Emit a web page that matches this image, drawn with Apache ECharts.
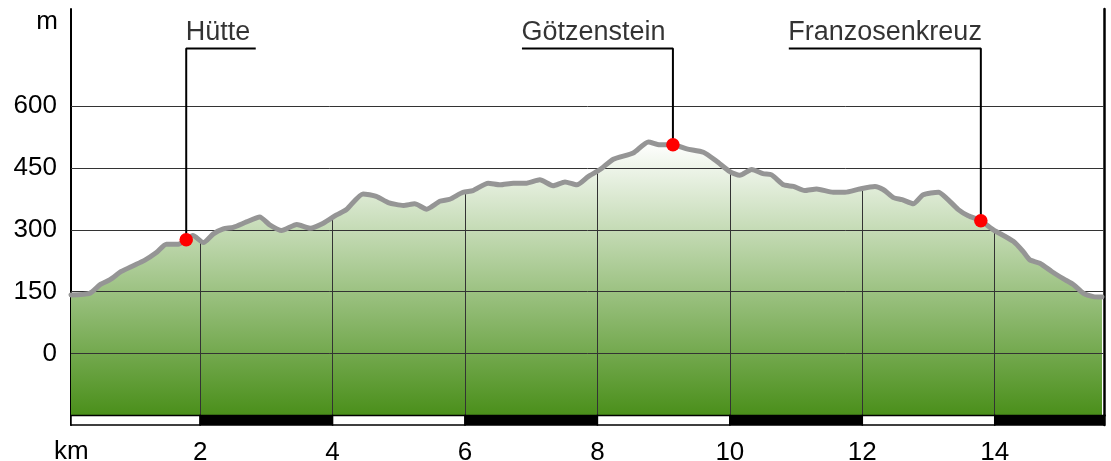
<!DOCTYPE html>
<html><head><meta charset="utf-8">
<script src="https://cdn.jsdelivr.net/npm/echarts@6/dist/echarts.min.js"></script>
<style>html,body{margin:0;padding:0;background:#fff}#c{width:1111px;height:461px}</style>
</head><body><div id="c"></div>
<script>
const distances = [0.05,0.33,0.49,0.64,0.81,0.99,1.16,1.34,1.49,1.67,
  1.79,1.89,2.05,2.20,2.35,2.50,2.70,2.90,3.05,3.23,
  3.46,3.66,3.86,4.06,4.21,4.46,4.66,4.84,5.07,5.24,
  5.42,5.62,5.77,5.97,6.12,6.35,6.53,6.73,6.93,7.13,
  7.33,7.51,7.69,7.86,8.04,8.24,8.54,8.77,8.94,9.14,
  9.35,9.60,9.80,10.0,10.15,10.33,10.50,10.63,10.81,10.96,
  11.13,11.31,11.56,11.74,11.96,12.19,12.32,12.47,12.60,12.77,
  12.92,13.15,13.27,13.45,13.60,13.79,13.98,14.28,14.43,14.53,
  14.68,14.86,15.04,15.19,15.34,15.49,15.62];
const elevations = [142,146,167,179,199,213,226,245,265,265,
  276,286,269,290,302,306,319,331,312,298,
  313,304,316,336,349,387,381,366,359,363,
  350,369,374,391,395,413,409,413,413,421,
  407,416,409,429,446,471,486,513,506,506,
  496,488,466,441,432,446,436,433,409,405,
  395,399,391,391,399,405,397,378,373,363,
  385,391,377,349,334,322,300,272,247,227,
  219,199,181,167,146,138,137];
const poiNames = ['Hütte','Götzenstein','Franzosenkreuz'];
const poiKm = [1.79, 9.14, 13.79];
const poiElev = [276, 506, 322];
const calloutLeftKm = [1.79, 6.86, 10.89];
const calloutRightKm = [2.84, 9.14, 13.79];
const calloutTop = 739;
const yTicks = [0,150,300,450,600];
const xTicks = [2,4,6,8,10,12,14];
const scaleStarts = [0.05,2,4,6,8,10,12,14];
const scaleEnds = [2,4,6,8,10,12,14,15.65];
const scaleFills = ['#ffffff','#000000','#ffffff','#000000','#ffffff','#000000','#ffffff','#000000'];

const FONT = '"Liberation Sans", Arial, sans-serif';
const profile = distances.map((d,i)=>[d, elevations[i]]);
function interp(k){
  for(let i=1;i<distances.length;i++){
    if(distances[i]>=k){
      const t=(k-distances[i-1])/(distances[i]-distances[i-1]);
      return elevations[i-1]+t*(elevations[i]-elevations[i-1]);
    }
  }
  return elevations[elevations.length-1];
}

const chart = echarts.init(document.getElementById('c'));
const series = [
  {
    type:'line', xAxisIndex:0, yAxisIndex:0, data:profile, showSymbol:false, smooth:0.2,
    lineStyle:{width:0}, z:1, silent:true,
    areaStyle:{origin:'start', opacity:1, color:{type:'linear',x:0,y:0,x2:0,y2:1,
      colorStops:[{offset:0,color:'#ffffff'},{offset:1,color:'#4a8f1a'}]}},
    markLine:{silent:true, symbol:['none','none'], z:2, animation:false,
      label:{show:false}, lineStyle:{color:'#333', width:1, type:'solid'},
      emphasis:{disabled:true},
      data:[...yTicks.map(v=>({yAxis:v})),
            ...xTicks.map(k=>[{coord:[k,-150]},{coord:[k,interp(k)]}])]}
  },
  {
    type:'line', xAxisIndex:0, yAxisIndex:0, data:profile, showSymbol:false, smooth:0.2,
    lineStyle:{color:'#959595', width:5, cap:'round', join:'round'}, z:3, silent:true
  }
];
poiKm.forEach((k,i)=>{
  const end = calloutLeftKm[i] < k - 0.01 ? calloutLeftKm[i] : calloutRightKm[i];
  series.push({type:'line', xAxisIndex:0, yAxisIndex:0, showSymbol:false, silent:true, z:4,
    data:[[k,poiElev[i]],[k,calloutTop],[end,calloutTop]],
    lineStyle:{color:'#000', width:2}});
});
series.push({type:'scatter', xAxisIndex:0, yAxisIndex:0, z:6, silent:true,
  data:poiKm.map((k,i)=>[k,poiElev[i]]), symbolSize:13.5, itemStyle:{color:'#ff0000', opacity:1}});
series.push({type:'scatter', xAxisIndex:0, yAxisIndex:0, z:7, silent:true,
  data:calloutLeftKm.map((k,i)=>[k,calloutTop,poiNames[i]]), symbolSize:1,
  itemStyle:{color:'rgba(0,0,0,0)'},
  label:{show:true, formatter:p=>p.data[2], position:[0,-16], align:'left', verticalAlign:'middle',
    fontSize:27, fontFamily:FONT, color:'#000', textBorderWidth:0}});
series.push({type:'custom', xAxisIndex:1, yAxisIndex:2, silent:true, z:5,
  data:scaleStarts.map((s,i)=>[s, scaleEnds[i], i]),
  encode:{x:[0,1]},
  renderItem:(params, api)=>{
    const p0 = api.coord([api.value(0), 1]);
    const p1 = api.coord([api.value(1), 0]);
    return {type:'rect', shape:{x:p0[0], y:p0[1], width:p1[0]-p0[0], height:p1[1]-p0[1]},
      style:{fill:scaleFills[api.value(2)], stroke:'#000', lineWidth:1.5}};
  }});

chart.setOption({
  animation:false,
  grid:[{left:71, top:9, width:1033, height:406.5, outerBoundsMode:'none', containLabel:false},
        {left:71, top:415.5, width:1033, height:9.5, outerBoundsMode:'none', containLabel:false}],
  xAxis:[
    {gridIndex:0, type:'value', min:0.05, max:15.65, show:false},
    {gridIndex:1, type:'value', min:0.05, max:15.65, axisLine:{show:false}, axisTick:{show:false},
     splitLine:{show:false},
     axisLabel:{customValues:xTicks, margin:15, fontSize:26, fontFamily:FONT, color:'#000'}}
  ],
  yAxis:[
    {gridIndex:0, type:'value', min:-150, max:835, interval:150,
     axisLine:{show:true, lineStyle:{color:'#000', width:2}}, axisTick:{show:false}, splitLine:{show:false},
     axisLabel:{formatter:v=>yTicks.includes(v)?String(v):'', margin:14, fontSize:26, fontFamily:FONT, color:'#000'}},
    {gridIndex:0, type:'value', position:'right', min:-150, max:835,
     axisLine:{show:true, lineStyle:{color:'#000', width:2.5}}, axisTick:{show:false}, axisLabel:{show:false}, splitLine:{show:false}},
    {gridIndex:1, type:'value', min:0, max:1,
     axisLine:{show:true, lineStyle:{color:'#000', width:2}}, axisTick:{show:false}, axisLabel:{show:false}, splitLine:{show:false}},
    {gridIndex:1, type:'value', position:'right', min:0, max:1,
     axisLine:{show:true, lineStyle:{color:'#000', width:2.5}}, axisTick:{show:false}, axisLabel:{show:false}, splitLine:{show:false}}
  ],
  graphic:[
    {type:'text', x:58, y:22, silent:true, style:{text:'m', font:'26px '+FONT, fill:'#000', align:'right', verticalAlign:'middle', textAlign:'right', textVerticalAlign:'middle'}},
    {type:'text', x:54, y:452, silent:true, style:{text:'km', font:'26px '+FONT, fill:'#000', align:'left', verticalAlign:'middle', textAlign:'left', textVerticalAlign:'middle'}}
  ],
  series:series
});
</script></body></html>
